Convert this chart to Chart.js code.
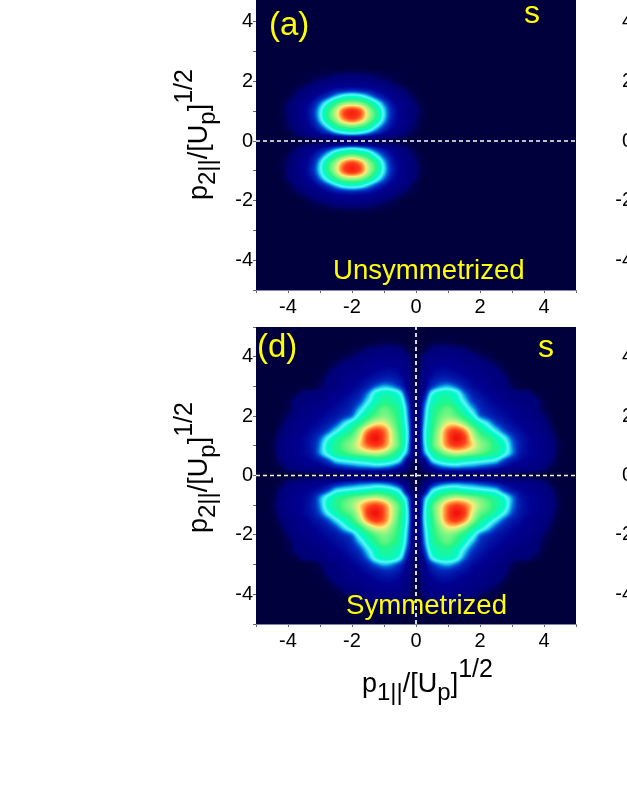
<!DOCTYPE html>
<html>
<head>
<meta charset="utf-8">
<title>Momentum distributions</title>
<script src="https://cdn.jsdelivr.net/npm/chart.js@4"></script>
<style>
  html, body { margin: 0; padding: 0; background: #fff; overflow: hidden; width: 627px; height: 811px; }
  canvas { position: absolute; }
</style>
</head>
<body>
<canvas id="panelA" style="left:170px;top:-30px"></canvas>
<canvas id="panelB" style="left:550px;top:-30px"></canvas>
<canvas id="panelD" style="left:170px;top:315px"></canvas>
<canvas id="panelE" style="left:550px;top:315px"></canvas>
<script>
const axisTicks = [-4, -2, 0, 2, 4];
const cellStep = 0.25;

// panel (a): one lobe. columns are distance from p1 = -2,
// rows are p2 = 0, 0.25 ... 2.5. the other three sides are its mirror images
const lobeCentre = -2;
const lobeValues = [
  [5, 5, 4, 4, 3, 3, 2, 1, 1, 0, 0],
  [36, 34, 29, 22, 17, 13, 10, 6, 2, 0, 0],
  [64, 60, 52, 38, 26, 18, 13, 9, 5, 1, 0],
  [91, 84, 68, 53, 34, 21, 15, 10, 6, 2, 0],
  [95, 88, 70, 54, 35, 22, 15, 10, 7, 2, 0],
  [69, 66, 56, 42, 29, 19, 14, 10, 6, 1, 0],
  [42, 40, 33, 25, 19, 14, 11, 7, 3, 0, 0],
  [20, 19, 18, 15, 13, 10, 7, 4, 1, 0, 0],
  [12, 12, 11, 9, 7, 5, 2, 0, 0, 0, 0],
  [6, 6, 5, 4, 3, 2, 1, 0, 0, 0, 0],
  [0, 0, 0, 0, 0, 0, 0, 0, 0, 0, 0]
];

// panel (d): upper right quadrant. columns p1 = 0 ... 5, rows p2 = 0 ... 5
const quadrantValues = [
  [2, 3, 4, 5, 5, 5, 5, 5, 5, 5, 4, 4, 4, 3, 3, 2, 1, 0, 0, 0, 0],
  [3, 8, 17, 24, 27, 28, 27, 26, 24, 22, 19, 16, 14, 13, 12, 10, 8, 3, 0, 0, 0],
  [4, 14, 34, 42, 46, 47, 44, 42, 40, 38, 35, 26, 20, 17, 15, 13, 11, 7, 1, 0, 0],
  [6, 28, 46, 58, 66, 70, 68, 64, 60, 55, 50, 41, 30, 20, 17, 15, 12, 9, 2, 0, 0],
  [7, 32, 56, 70, 84, 90, 86, 76, 66, 60, 52, 44, 30, 21, 17, 15, 12, 9, 3, 0, 0],
  [7, 34, 56, 72, 88, 100, 92, 74, 62, 56, 48, 38, 27, 20, 17, 14, 12, 8, 2, 0, 0],
  [7, 34, 54, 70, 86, 92, 84, 68, 54, 45, 36, 27, 21, 18, 15, 13, 10, 6, 1, 0, 0],
  [6, 32, 52, 64, 74, 74, 66, 54, 44, 35, 26, 21, 18, 16, 14, 12, 9, 4, 0, 0, 0],
  [6, 30, 50, 60, 64, 60, 52, 42, 29, 24, 20, 18, 16, 14, 12, 10, 6, 2, 0, 0, 0],
  [5, 28, 48, 56, 60, 54, 44, 33, 24, 20, 18, 16, 14, 12, 11, 8, 4, 1, 0, 0, 0],
  [5, 24, 44, 50, 52, 46, 36, 26, 21, 18, 16, 14, 11, 10, 9, 8, 3, 0, 0, 0, 0],
  [4, 18, 38, 46, 47, 42, 30, 22, 18, 16, 14, 12, 9, 9, 8, 4, 1, 0, 0, 0, 0],
  [4, 14, 24, 30, 32, 28, 22, 18, 16, 14, 11, 9, 5, 2, 1, 0, 0, 0, 0, 0, 0],
  [3, 13, 19, 22, 22, 20, 18, 16, 14, 12, 10, 8, 3, 1, 0, 0, 0, 0, 0, 0, 0],
  [3, 11, 16, 18, 18, 17, 15, 14, 12, 11, 9, 5, 1, 0, 0, 0, 0, 0, 0, 0, 0],
  [2, 10, 14, 15, 15, 14, 13, 12, 10, 8, 5, 2, 0, 0, 0, 0, 0, 0, 0, 0, 0],
  [1, 8, 11, 12, 12, 12, 10, 9, 6, 4, 2, 0, 0, 0, 0, 0, 0, 0, 0, 0, 0],
  [0, 3, 8, 9, 9, 8, 7, 4, 2, 1, 0, 0, 0, 0, 0, 0, 0, 0, 0, 0, 0],
  [0, 0, 2, 3, 3, 2, 1, 0, 0, 0, 0, 0, 0, 0, 0, 0, 0, 0, 0, 0, 0],
  [0, 0, 0, 1, 1, 1, 0, 0, 0, 0, 0, 0, 0, 0, 0, 0, 0, 0, 0, 0, 0],
  [0, 0, 0, 0, 0, 0, 0, 0, 0, 0, 0, 0, 0, 0, 0, 0, 0, 0, 0, 0, 0]
];

// value -> colour, tuned by eye against the picture
const colourStops = [
  [0, [0, 0, 60]], [4, [0, 0, 78]], [7, [0, 0, 115]], [16, [0, 0, 145]], [24, [0, 45, 190]],
  [28, [0, 100, 215]], [32, [20, 190, 235]], [37, [90, 245, 245]], [43, [0, 250, 205]], [55, [40, 245, 130]],
  [68, [170, 245, 130]], [75, [255, 235, 120]], [82, [255, 150, 60]], [90, [255, 60, 25]], [100, [240, 20, 10]]
];

function colourFor(v) {
  let i = 1;
  while (i < colourStops.length - 1 && colourStops[i][0] < v) i++;
  const [a, ca] = colourStops[i - 1];
  const [b, cb] = colourStops[i];
  const t = Math.max(0, Math.min(1, (v - a) / (b - a)));
  return ca.map((c, k) => Math.round(c + (cb[k] - c) * t));
}

function lobeCells() {
  const cells = [];
  lobeValues.forEach((row, j) => row.forEach((v, i) => {
    for (const sx of [-1, 1]) for (const sy of [-1, 1]) {
      cells.push({ x: lobeCentre + sx * i * cellStep, y: sy * j * cellStep, v });
    }
  }));
  return cells;
}

function quadrantCells() {
  const cells = [];
  quadrantValues.forEach((row, j) => row.forEach((v, i) => {
    for (const sx of [-1, 1]) for (const sy of [-1, 1]) {
      cells.push({ x: sx * i * cellStep, y: sy * j * cellStep, v });
    }
  }));
  return cells;
}

// catmull-rom weights, the original map is a smoothed image not hard blocks
function spline(p0, p1, p2, p3, t) {
  return p1 + 0.5 * t * (p2 - p0 + t * (2 * p0 - 5 * p1 + 4 * p2 - p3 + t * (3 * (p1 - p2) + p3 - p0)));
}

// chart.js has no heatmap type so the cells go through the scales here
const heatPlugin = {
  id: 'heat',
  beforeDatasetsDraw(chart) {
    const cells = chart.data.datasets[0].data;
    if (!cells.length) return;
    const { ctx, chartArea: area, scales: { x, y } } = chart;
    const n = Math.round(10 / cellStep) + 1;
    const grid = new Float32Array(n * n);
    cells.forEach((c) => {
      grid[Math.round((c.y + 5) / cellStep) * n + Math.round((c.x + 5) / cellStep)] = c.v;
    });
    const at = (r, c) => grid[Math.max(0, Math.min(n - 1, r)) * n + Math.max(0, Math.min(n - 1, c))];
    const w = Math.round(area.width);
    const h = Math.round(area.height);
    const off = document.createElement('canvas');
    off.width = w; off.height = h;
    const octx = off.getContext('2d');
    const img = octx.createImageData(w, h);
    for (let py = 0; py < h; py++) {
      const fr = (y.getValueForPixel(area.top + py + 0.5) + 5) / cellStep;
      const r = Math.floor(fr);
      for (let px = 0; px < w; px++) {
        const fc = (x.getValueForPixel(area.left + px + 0.5) + 5) / cellStep;
        const c = Math.floor(fc);
        const rows = [-1, 0, 1, 2].map((d) => spline(at(r + d, c - 1), at(r + d, c), at(r + d, c + 1), at(r + d, c + 2), fc - c));
        const v = spline(rows[0], rows[1], rows[2], rows[3], fr - r);
        const rgb = colourFor(Math.max(0, v));
        const k = (py * w + px) * 4;
        img.data[k] = rgb[0]; img.data[k + 1] = rgb[1]; img.data[k + 2] = rgb[2]; img.data[k + 3] = 255;
      }
    }
    octx.putImageData(img, 0, 0);
    ctx.drawImage(off, area.left, area.top, area.width, area.height);
  }
};

function drawRuns(ctx, runs, x, y) {
  let pos = x;
  runs.forEach(([text, size, shift]) => {
    ctx.font = `${size}px "Liberation Sans", Arial, sans-serif`;
    ctx.fillText(text, pos, y + shift);
    pos += ctx.measureText(text).width;
  });
}

function axisRuns(index) {
  return [['p', 27, 0], [index, 24, 8], ['/[U', 27, 0], ['p', 24, 8], [']', 27, 0], ['1/2', 25, -15]];
}

const notesPlugin = {
  id: 'notes',
  afterDraw(chart, args, opts) {
    const { ctx } = chart;
    const { left, top } = chart.canvas.getBoundingClientRect();
    ctx.save();
    ctx.fillStyle = '#ffff00';
    ctx.textBaseline = 'alphabetic';
    ctx.textAlign = 'left';
    (opts.labels || []).forEach(([text, size, px, py]) => {
      ctx.font = `${size}px "Liberation Sans", Arial, sans-serif`;
      ctx.fillText(text, px - left, py - top);
    });
    ctx.fillStyle = '#000';
    if (opts.yTitle) {
      ctx.save();
      ctx.translate(opts.yTitle[0] - left, opts.yTitle[1] - top);
      ctx.rotate(-Math.PI / 2);
      drawRuns(ctx, axisRuns('2||'), 0, 0);
      ctx.restore();
    }
    if (opts.xTitle) drawRuns(ctx, axisRuns('1||'), opts.xTitle[0] - left, opts.xTitle[1] - top);
    ctx.restore();
  }
};

function tickLabel(value) {
  return axisTicks.includes(value) ? String(value) : '';
}

function axis(size, labelGap) {
  return {
    type: 'linear',
    min: -5,
    max: 5,
    border: { color: '#7f86ad', width: 1 },
    grid: { drawOnChartArea: false, tickLength: 3, color: '#666' },
    ticks: {
      stepSize: 1,
      autoSkip: false,
      maxRotation: 0,
      padding: labelGap,
      color: '#000',
      font: { family: '"Liberation Sans", Arial, sans-serif', size: 20 },
      callback: tickLabel
    },
    afterFit(scale) {
      if (scale.isHorizontal()) scale.height = size;
      else scale.width = size;
      // blank end labels still reserve room, the plot box has to stay put
      scale.paddingTop = scale.paddingBottom = scale.paddingLeft = scale.paddingRight = 0;
    }
  };
}

function dashed(points) {
  return {
    data: points,
    showLine: true,
    pointRadius: 0,
    borderColor: '#fff',
    borderWidth: 1.7,
    borderDash: [4, 3],
    clip: true
  };
}

function panel(id, width, height, pad, cells, lines, notes) {
  const canvas = document.getElementById(id);
  canvas.width = width;
  canvas.height = height;
  canvas.style.width = width + 'px';
  canvas.style.height = height + 'px';
  return new Chart(canvas, {
    type: 'scatter',
    data: {
      datasets: [{ data: cells, pointRadius: 0, showLine: false }].concat(lines.map(dashed))
    },
    options: {
      responsive: false,
      animation: false,
      layout: { padding: pad },
      plugins: { legend: { display: false }, tooltip: { enabled: false }, title: { display: false }, notes },
      scales: { x: axis(pad.xSize, 2), y: axis(86, 0) }
    },
    plugins: [heatPlugin, notesPlugin]
  });
}

const horizontal = [{ x: -5, y: 0 }, { x: 5, y: 0 }];
const vertical = [{ x: 0, y: -5 }, { x: 0, y: 5 }];

panel('panelA', 420, 350, { left: 0, right: 14, top: 22, bottom: 0, xSize: 30 }, lobeCells(), [horizontal], {
  labels: [['(a)', 33, 269, 35], ['s', 32, 524, 23], ['Unsymmetrized', 27.6, 333, 279]],
  yTitle: [207, 200]
});
panel('panelB', 420, 350, { left: 0, right: 14, top: 22, bottom: 0, xSize: 30 }, [], [], {});
panel('panelD', 420, 405, { left: 0, right: 14, top: 12, bottom: 0, xSize: 96 }, quadrantCells(), [horizontal, vertical], {
  labels: [['(d)', 33, 257, 357], ['s', 32, 538, 357], ['Symmetrized', 27.6, 346, 614]],
  yTitle: [207, 533],
  xTitle: [362, 692]
});
panel('panelE', 420, 405, { left: 0, right: 14, top: 12, bottom: 0, xSize: 96 }, [], [], {});
</script>
</body>
</html>
